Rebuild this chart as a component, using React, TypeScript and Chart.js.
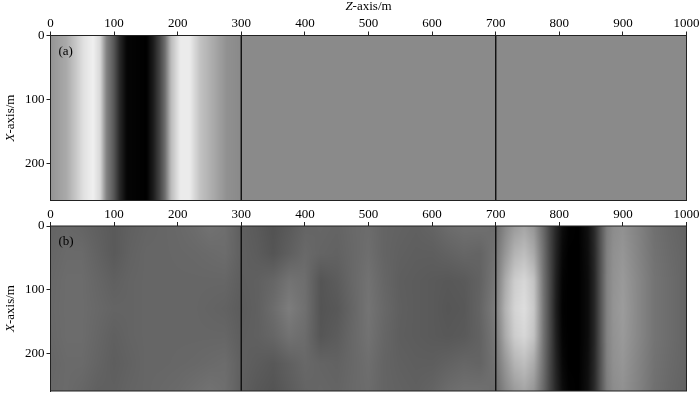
import React, { useEffect, useRef } from "react";
import { Chart, registerables } from "chart.js";

Chart.register(...registerables);

const FONT = '"Liberation Serif", serif';
const INK = "#000";

// Panel (a): gray level across Z, constant along X
const zA = [0, 25, 40, 52, 67, 78, 88, 99, 109, 120, 151, 162, 172, 180, 190, 204, 219, 235, 256, 277, 298, 1000];
const grayA = [148, 170, 200, 225, 240, 215, 130, 90, 40, 5, 0, 30, 70, 110, 190, 235, 235, 195, 170, 145, 138, 138];

// Panel (b): gray level on Z columns and X rows
const zB = [0, 25, 50, 75, 100, 125, 150, 175, 200, 225, 250, 275, 300, 325, 350, 375, 400, 425, 450, 475, 500, 525, 550, 575, 600, 625, 650, 675, 700, 715, 730, 745, 760, 775, 785, 795, 805, 815, 830, 845, 855, 865, 875, 885, 900, 925, 950, 975, 1000];
const xB = [0, 43, 86, 129, 172, 215, 258];
const row0 = [100, 103, 100, 95, 90, 96, 100, 102, 104, 108, 114, 110, 95, 90, 82, 90, 100, 102, 100, 105, 108, 100, 98, 96, 100, 108, 112, 112, 108, 135, 155, 165, 150, 105, 70, 38, 12, 2, 0, 16, 42, 85, 125, 140, 145, 130, 112, 104, 98];
const row43 = [102, 106, 106, 98, 90, 98, 102, 102, 103, 104, 106, 108, 96, 92, 85, 95, 105, 100, 98, 104, 110, 100, 96, 94, 94, 98, 102, 100, 115, 150, 180, 190, 170, 112, 72, 35, 8, 0, 0, 14, 40, 85, 128, 144, 150, 132, 114, 106, 100];
const row86 = [104, 108, 108, 102, 96, 100, 102, 102, 102, 102, 102, 102, 94, 96, 102, 115, 110, 85, 92, 104, 114, 102, 94, 92, 90, 88, 90, 98, 120, 170, 205, 215, 195, 116, 75, 32, 4, 0, 0, 12, 38, 85, 130, 146, 154, 135, 116, 108, 100];
const row129 = [105, 108, 108, 104, 100, 100, 102, 102, 102, 102, 100, 98, 92, 96, 108, 125, 112, 84, 88, 102, 116, 104, 95, 92, 90, 86, 88, 100, 125, 178, 212, 222, 200, 118, 75, 30, 2, 0, 0, 12, 38, 85, 130, 148, 156, 135, 116, 108, 100];
const row172 = [104, 108, 108, 102, 96, 100, 102, 102, 102, 102, 102, 102, 94, 96, 102, 114, 108, 86, 92, 104, 114, 102, 94, 92, 90, 88, 90, 98, 120, 170, 205, 215, 195, 116, 75, 32, 4, 0, 0, 12, 38, 85, 130, 146, 154, 135, 116, 108, 100];
const row215 = [102, 106, 106, 100, 94, 98, 102, 102, 103, 104, 106, 108, 96, 92, 88, 96, 104, 100, 98, 104, 110, 100, 96, 94, 94, 98, 102, 100, 115, 150, 180, 190, 170, 112, 72, 35, 8, 0, 0, 14, 40, 85, 128, 144, 150, 132, 114, 106, 100];
const row258 = [104, 106, 102, 96, 96, 100, 102, 104, 106, 110, 114, 110, 95, 88, 84, 92, 100, 102, 100, 105, 108, 100, 98, 96, 100, 108, 112, 112, 108, 135, 155, 165, 150, 105, 70, 38, 12, 2, 0, 16, 42, 85, 125, 140, 145, 130, 112, 104, 98];

const boundaries = [300, 700];
const X_MAX = 258;

type Field = { z: number[]; x: number[]; rows: number[][] };

function bracket(stops: number[], v: number): [number, number, number] {
  if (stops.length === 1) return [0, 0, 0];
  if (v <= stops[0]) return [0, 1, 0];
  for (let i = 0; i < stops.length - 1; i++) {
    if (v <= stops[i + 1]) return [i, i + 1, (v - stops[i]) / (stops[i + 1] - stops[i])];
  }
  return [stops.length - 2, stops.length - 1, 1];
}

const heatPlugin = {
  id: "heat",
  beforeDatasetsDraw(chart: any, _a: any, opts: any) {
    const field: Field = opts.field;
    const { left, top, right, bottom } = chart.chartArea;
    const sx = chart.scales.x;
    const sy = chart.scales.y;
    const w = Math.round(right - left);
    const h = Math.round(bottom - top);
    const off = document.createElement("canvas");
    off.width = w;
    off.height = h;
    const octx = off.getContext("2d")!;
    const img = octx.createImageData(w, h);
    for (let j = 0; j < h; j++) {
      const [r0, r1, tr] = bracket(field.x, sy.getValueForPixel(top + j + 0.5));
      for (let i = 0; i < w; i++) {
        const [c0, c1, tc] = bracket(field.z, sx.getValueForPixel(left + i + 0.5));
        const a = field.rows[r0][c0] * (1 - tc) + field.rows[r0][c1] * tc;
        const b = field.rows[r1][c0] * (1 - tc) + field.rows[r1][c1] * tc;
        const g = a * (1 - tr) + b * tr;
        const k = (j * w + i) * 4;
        img.data[k] = img.data[k + 1] = img.data[k + 2] = g;
        img.data[k + 3] = 255;
      }
    }
    octx.putImageData(img, 0, 0);
    chart.ctx.drawImage(off, left, top, right - left, bottom - top);
  },
};

function axisName(ctx: any, x: number, y: number, angle: number, letter: string, rest: string) {
  ctx.save();
  ctx.translate(x, y);
  ctx.rotate(angle);
  ctx.fillStyle = INK;
  ctx.textBaseline = "middle";
  ctx.textAlign = "left";
  ctx.font = `italic 13px ${FONT}`;
  const a = ctx.measureText(letter).width;
  ctx.font = `13px ${FONT}`;
  const b = ctx.measureText(rest).width;
  ctx.font = `italic 13px ${FONT}`;
  ctx.fillText(letter, -(a + b) / 2, 0);
  ctx.font = `13px ${FONT}`;
  ctx.fillText(rest, -(a + b) / 2 + a, 0);
  ctx.restore();
}

const framePlugin = {
  id: "frame",
  afterDraw(chart: any, _a: any, opts: any) {
    const { left, top, right, bottom } = chart.chartArea;
    const ctx = chart.ctx;
    ctx.save();
    ctx.strokeStyle = "#222";
    ctx.lineWidth = 1;
    ctx.strokeRect(left, top, right - left, bottom - top);
    ctx.fillStyle = INK;
    ctx.font = `13px ${FONT}`;
    ctx.textBaseline = "middle";
    ctx.textAlign = "left";
    ctx.fillText(opts.tag, left + 8, top + 16);
    ctx.restore();
    axisName(ctx, 11, (top + bottom) / 2, -Math.PI / 2, "X", "-axis/m");
    if (opts.zTitle) axisName(ctx, (left + right) / 2, 7, 0, "Z", "-axis/m");
  },
};

function makeChart(canvas: HTMLCanvasElement, field: Field, tag: string, zTitle: boolean, headH: number, padBottom: number) {
  const tickFont = { family: FONT, size: 13 };
  const noPad = (s: any) => {
    s.paddingLeft = s.paddingRight = s.paddingTop = s.paddingBottom = 0;
  };
  return new Chart(canvas, {
    type: "scatter",
    data: {
      datasets: boundaries.map((b) => ({
        data: [{ x: b, y: 0 }, { x: b, y: X_MAX }],
        showLine: true,
        borderColor: "#111",
        borderWidth: 0.9,
        pointRadius: 0,
      })),
    },
    options: {
      animation: false,
      responsive: false,
      events: [],
      layout: { padding: { left: 0, top: 0, right: 13.5, bottom: padBottom } },
      plugins: {
        legend: { display: false },
        tooltip: { enabled: false },
        heat: { field },
        frame: { tag, zTitle },
      } as any,
      scales: {
        x: {
          type: "linear",
          position: "top",
          min: 0,
          max: 1000,
          afterFit: (s: any) => { s.height = headH; noPad(s); },
          ticks: { stepSize: 100, color: INK, font: tickFont, padding: 0, maxRotation: 0, autoSkip: false, callback: (v: any) => String(v) },
          grid: { drawOnChartArea: false, tickLength: 4, color: "#222", tickColor: "#222" },
          border: { color: "#222" },
        },
        y: {
          type: "linear",
          reverse: true,
          min: 0,
          max: X_MAX,
          afterFit: (s: any) => { s.width = 50.5; noPad(s); },
          afterBuildTicks: (s: any) => { s.ticks = s.ticks.filter((t: any) => t.value % 100 === 0); },
          ticks: { stepSize: 100, color: INK, font: tickFont, padding: 2, autoSkip: false, callback: (v: any) => String(v) },
          grid: { drawOnChartArea: false, tickLength: 4, color: "#222", tickColor: "#222" },
          border: { color: "#222" },
        },
      },
    } as any,
    plugins: [heatPlugin, framePlugin],
  } as any);
}

export default function App() {
  const topRef = useRef<HTMLCanvasElement>(null);
  const botRef = useRef<HTMLCanvasElement>(null);
  useEffect(() => {
    document.body.style.margin = "0";
    document.body.style.background = "#fff";
    const a = makeChart(topRef.current!, { z: zA, x: [0], rows: [grayA] }, "(a)", true, 35.5, 4.5);
    const b = makeChart(botRef.current!, { z: zB, x: xB, rows: [row0, row43, row86, row129, row172, row215, row258] }, "(b)", false, 21, 5);
    return () => {
      a.destroy();
      b.destroy();
    };
  }, []);
  return (
    <div style={{ position: "relative", width: 700, height: 396, overflow: "hidden" }}>
      <canvas ref={topRef} width={700} height={205} style={{ position: "absolute", left: 0, top: 0 }} />
      <canvas ref={botRef} width={700} height={191} style={{ position: "absolute", left: 0, top: 205 }} />
    </div>
  );
}
